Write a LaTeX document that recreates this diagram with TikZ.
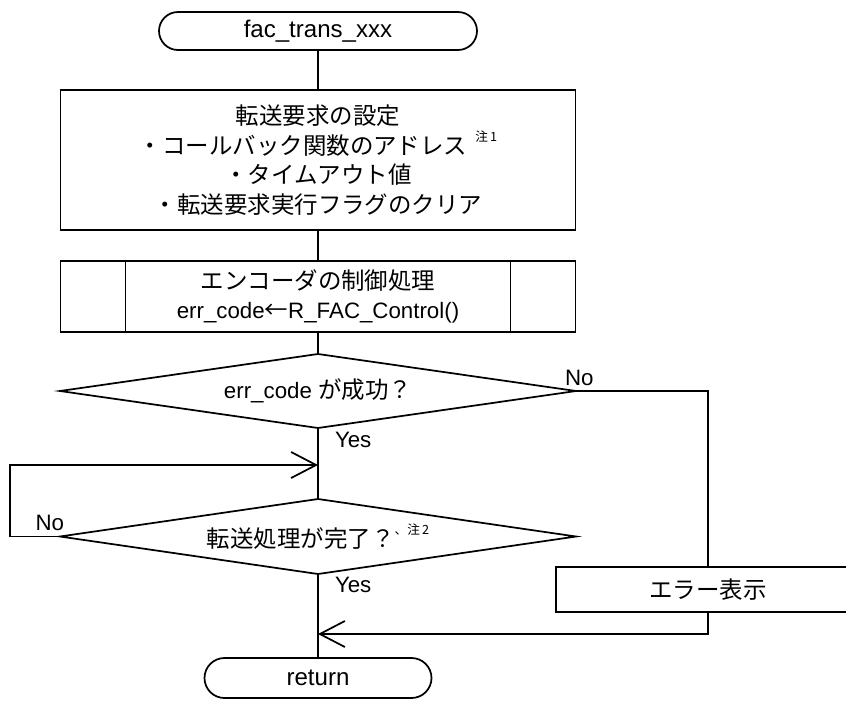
\documentclass[tikz,border=0pt]{standalone}
\usepackage{fontspec}
\setmainfont{Liberation Sans}[Scale=0.95]
\newfontfamily\jp{Noto Sans CJK JP}
\usetikzlibrary{shapes.geometric,shapes.misc,arrows.meta}
\newcommand{\px}{0.75pt}
\newcommand{\chu}[1]{\raisebox{9.5pt}{\fontsize{9.5}{9.5}\selectfont\jp #1}}

\begin{document}
\begin{tikzpicture}[x=0.75pt,y=-0.75pt,line width=1.3pt,
  >={Straight Barb[length=18.75pt,width=19.5pt]},
  every node/.style={font=\fontsize{17.6}{22.3}\selectfont,outer sep=0pt},
  term/.style={draw,rounded rectangle,inner sep=0pt,font=\fontsize{19}{24}\selectfont},
  box/.style={draw,rectangle,inner sep=0pt,align=center},
  decision/.style={draw,diamond,aspect=7,inner sep=0pt,minimum width=516*\px},
  lbl/.style={inner sep=0pt}]
\useasboundingbox (0,0) rectangle (846,701);

% start and settings
  \node[term,minimum width=318*\px,minimum height=38*\px] (start) at (318,31) {fac\_trans\_xxx};
  \node[box,minimum width=515*\px,minimum height=140*\px] (setreq) at (318,160)
    {{\jp 転送要求の設定}\\
     {\jp ・コールバック関数のアドレス}\hspace{6pt}\chu{注\,1}\\
     {\jp ・タイムアウト値}\\
     {\jp ・転送要求実行フラグのクリア}};

% encoder control (predefined process)
  \node[box,minimum width=515*\px,minimum height=71*\px] (enc) at (318,296.5)
    {{\jp エンコーダの制御処理}\\err\_code{\jp ←}R\_FAC\_Control()};
  \draw ([xshift=65*\px]enc.north west) -- ([xshift=65*\px]enc.south west);
  \draw ([xshift=-65*\px]enc.north east) -- ([xshift=-65*\px]enc.south east);

% decisions
  \node[decision,minimum height=74*\px] (dec1) at (318,391) {err\_code {\jp が成功？}};
  \node[decision,minimum height=75*\px] (dec2) at (318,536.5) {{\jp 転送処理が完了？}\chu{、注\,2}};

% error and end
  \node[box,minimum width=304*\px,minimum height=45*\px] (err) at (708,589.5) {{\jp エラー表示}};
  \node[term,minimum width=227*\px,minimum height=40*\px] (ret) at (318,678) {return};

  \coordinate (loopin) at (318,465);
  \coordinate (retin) at (318,634);

  \path
    (start) edge (setreq)
    (setreq) edge (enc)
    (enc) edge (dec1)
    (dec1) edge (dec2)
    (dec2) edge (ret);

  \draw[->] (dec2.west) -- ++(-50,0) |- (loopin);
  \draw (dec1.east) -| (err.north);
  \draw[->] (err.south) |- (retin);

% labels
  \node[lbl,anchor=west] (no1) at ([shift={(-11,-13)}]dec1.east) {No};
  \node[lbl,anchor=west] (yes1) at ([shift={(17,12)}]dec1.south) {Yes};
  \node[lbl,anchor=east] (no2) at ([shift={(4,-14)}]dec2.west) {No};
  \node[lbl,anchor=west] (yes2) at ([shift={(17,11)}]dec2.south) {Yes};

\end{tikzpicture}
\end{document}
